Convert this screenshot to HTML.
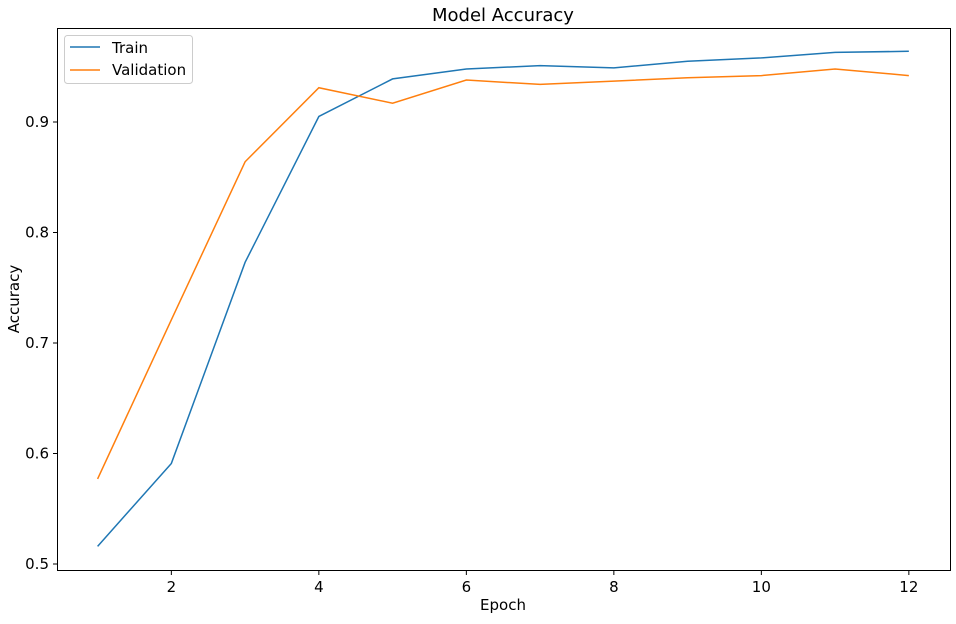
<!DOCTYPE html>
<html><head><meta charset="utf-8"><style>
body{margin:0;background:#fff;font-family:"Liberation Sans","DejaVu Sans",sans-serif}
svg text{font-family:"DejaVu Sans","Liberation Sans",sans-serif}
</style></head><body>
<svg id="chart" width="956" height="619" xmlns="http://www.w3.org/2000/svg">
<rect width="956" height="619" fill="#fff"/>
<text x="503" y="21" font-size="18" text-anchor="middle">Model Accuracy</text>
<g id="axes"></g>
<rect x="57.5" y="28.5" width="893" height="542" fill="none" stroke="#000" stroke-width="1"/>
<text x="503" y="610" font-size="15" text-anchor="middle">Epoch</text>
<text transform="translate(19,299) rotate(-90)" font-size="15" text-anchor="middle">Accuracy</text>
<g>
<rect x="64.5" y="35.5" width="128" height="48" rx="3" fill="#fff" stroke="#ccc"/>
<g><line x1="70" y1="47" x2="100" y2="47" stroke="#1f77b4" stroke-width="1.5"/><text x="112" y="53" font-size="15">Train</text></g>
<g><line x1="70" y1="70" x2="100" y2="70" stroke="#ff7f0e" stroke-width="1.5"/><text x="112" y="75" font-size="15">Validation</text></g>
</g>
</svg>
<script>
const epochs=[1,2,3,4,5,6,7,8,9,10,11,12];
const trainAcc=[0.516,0.591,0.773,0.905,0.939,0.948,0.951,0.949,0.955,0.958,0.963,0.964];
const valAcc=[0.577,0.721,0.864,0.931,0.917,0.938,0.934,0.937,0.940,0.942,0.948,0.942];
const xTicks=[2,4,6,8,10,12];
const yTicks=[0.5,0.6,0.7,0.8,0.9];
const NS="http://www.w3.org/2000/svg";
function xs(v){return 97.6+(v-1)*73.75;}
function ys(v){return 564-(v-0.5)*1105;}
const g=document.getElementById('axes');
xTicks.forEach(t=>{
 const l=document.createElementNS(NS,'line');
 l.setAttribute('x1',xs(t));l.setAttribute('x2',xs(t));l.setAttribute('y1',570.5);l.setAttribute('y2',575);l.setAttribute('stroke','#000');
 
 
 g.appendChild(l);
 const tx=document.createElementNS(NS,'text');
 tx.setAttribute('x',xs(t));tx.setAttribute('y',592);tx.setAttribute('font-size','15');tx.setAttribute('text-anchor','middle');tx.textContent=t;
 
 
 g.appendChild(tx);
});
yTicks.forEach(t=>{
 const l=document.createElementNS(NS,'line');
 l.setAttribute('x1',53);l.setAttribute('x2',57.5);l.setAttribute('y1',ys(t));l.setAttribute('y2',ys(t));l.setAttribute('stroke','#000');
 
 
 g.appendChild(l);
 const tx=document.createElementNS(NS,'text');
 tx.setAttribute('x',49);tx.setAttribute('y',ys(t)+5);tx.setAttribute('font-size','15');tx.setAttribute('text-anchor','end');tx.textContent=t.toFixed(1);
 
 
 g.appendChild(tx);
});
function line(data,color,name){
 const p=document.createElementNS(NS,'polyline');
 p.setAttribute('points',data.map((v,i)=>xs(epochs[i])+','+ys(v)).join(' '));
 p.setAttribute('fill','none');p.setAttribute('stroke',color);p.setAttribute('stroke-width','1.5');
 
 
 g.appendChild(p);
}
line(trainAcc,'#1f77b4','train-line');
line(valAcc,'#ff7f0e','validation-line');
</script>
</body></html>
